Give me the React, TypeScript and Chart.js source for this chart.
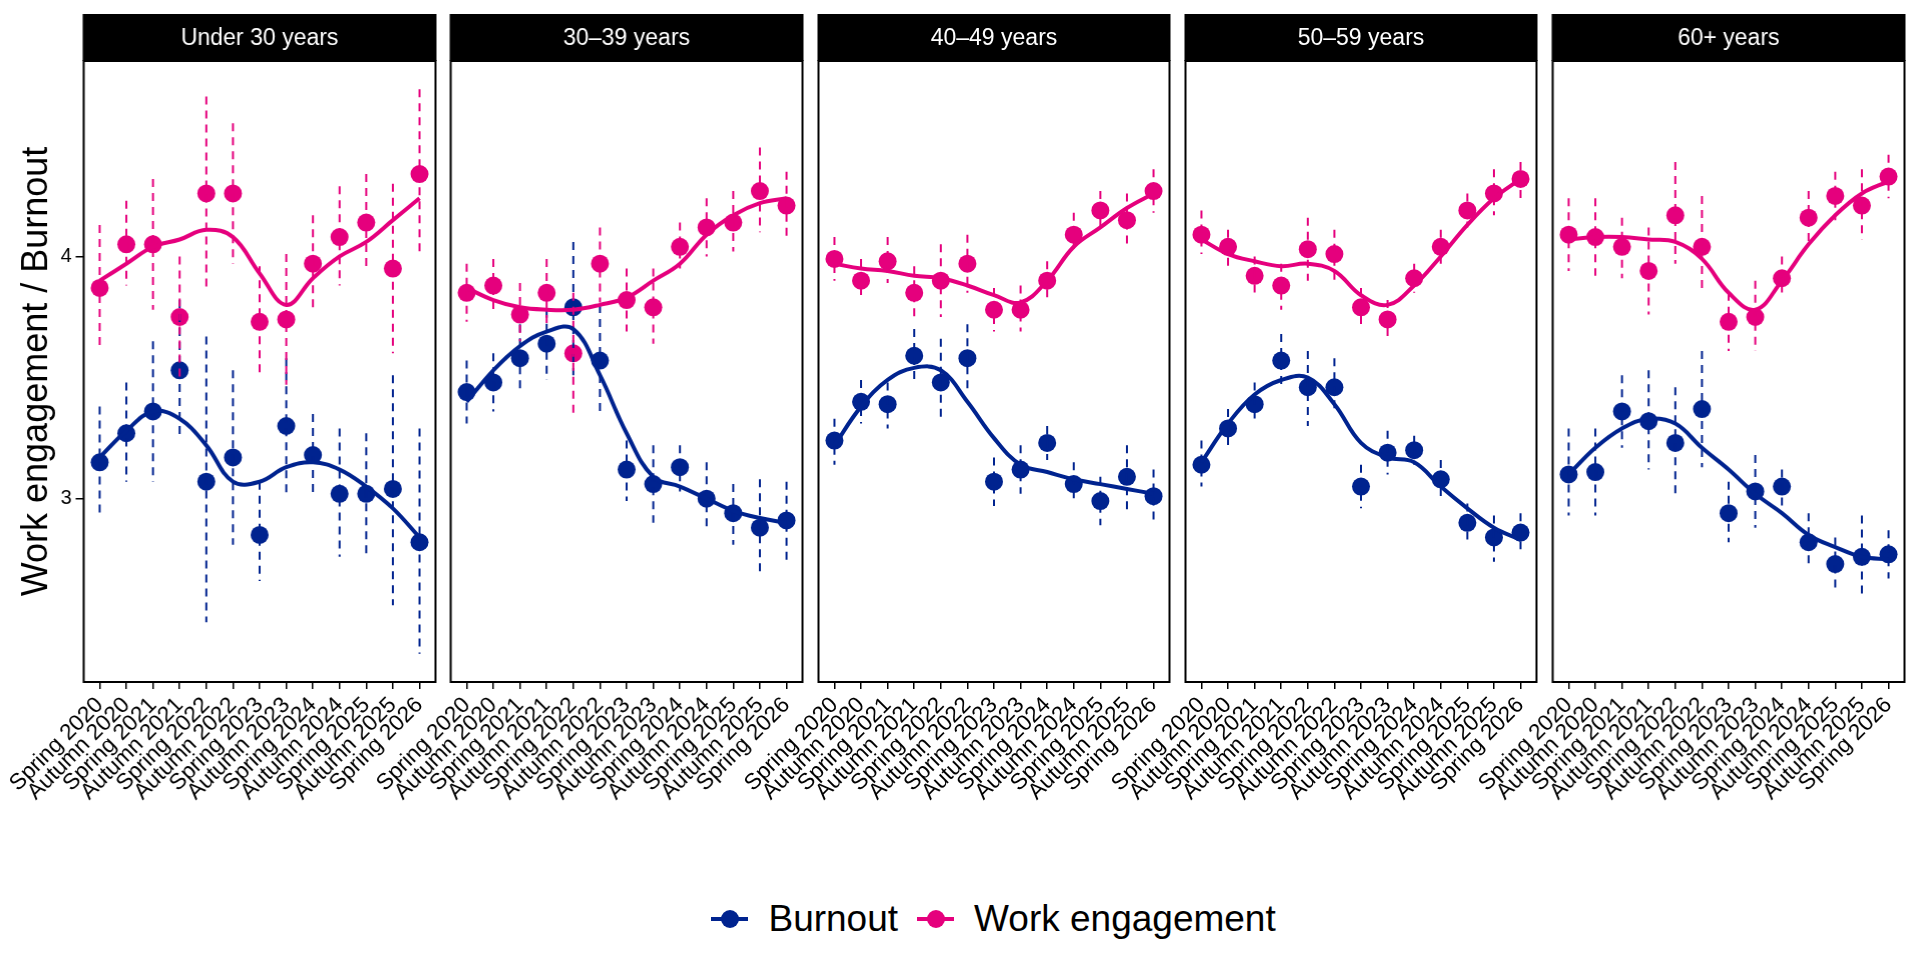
import React, { useEffect, useRef } from 'react';
import { Chart, registerables } from 'chart.js';

Chart.register(...registerables);

const waves = [
  'Spring 2020', 'Autumn 2020', 'Spring 2021', 'Autumn 2021', 'Spring 2022', 'Autumn 2022',
  'Spring 2023', 'Autumn 2023', 'Spring 2024', 'Autumn 2024', 'Spring 2025', 'Autumn 2025', 'Spring 2026',
];

const ageGroups = ['Under 30 years', '30–39 years', '40–49 years', '50–59 years', '60+ years'];

const yTicks = [3, 4];
const yMin = 2.243;
const yMax = 4.807;

// one row per age group
const burnoutMean = [
  [3.15, 3.27, 3.36, 3.53, 3.07, 3.17, 2.85, 3.30, 3.18, 3.02, 3.02, 3.04, 2.82],
  [3.44, 3.48, 3.58, 3.64, 3.79, 3.57, 3.12, 3.06, 3.13, 3.00, 2.94, 2.88, 2.91],
  [3.24, 3.40, 3.39, 3.59, 3.48, 3.58, 3.07, 3.12, 3.23, 3.06, 2.99, 3.09, 3.01],
  [3.14, 3.29, 3.39, 3.57, 3.46, 3.46, 3.05, 3.19, 3.20, 3.08, 2.90, 2.84, 2.86],
  [3.10, 3.11, 3.36, 3.32, 3.23, 3.37, 2.94, 3.03, 3.05, 2.82, 2.73, 2.76, 2.77],
];
const burnoutLow = [
  [2.93, 3.07, 3.07, 3.25, 2.49, 2.81, 2.66, 3.02, 3.01, 2.76, 2.76, 2.56, 2.36],
  [3.31, 3.36, 3.45, 3.49, 3.51, 3.36, 2.99, 2.90, 3.03, 2.87, 2.81, 2.68, 2.74],
  [3.14, 3.31, 3.29, 3.48, 3.32, 3.45, 2.97, 3.02, 3.16, 2.98, 2.89, 2.95, 2.91],
  [3.05, 3.20, 3.31, 3.47, 3.30, 3.35, 2.96, 3.10, 3.14, 3.00, 2.83, 2.74, 2.78],
  [2.93, 2.93, 3.21, 3.12, 3.00, 3.13, 2.82, 2.88, 2.97, 2.71, 2.63, 2.60, 2.67],
];
const burnoutHigh = [
  [3.38, 3.48, 3.65, 3.82, 3.67, 3.53, 3.07, 3.58, 3.35, 3.29, 3.27, 3.51, 3.29],
  [3.57, 3.60, 3.72, 3.78, 4.06, 3.80, 3.24, 3.22, 3.22, 3.15, 3.06, 3.08, 3.07],
  [3.33, 3.49, 3.48, 3.70, 3.66, 3.72, 3.17, 3.22, 3.30, 3.15, 3.09, 3.22, 3.12],
  [3.24, 3.37, 3.48, 3.68, 3.61, 3.58, 3.14, 3.28, 3.26, 3.16, 2.98, 2.93, 2.94],
  [3.29, 3.29, 3.51, 3.53, 3.46, 3.61, 3.07, 3.18, 3.12, 2.94, 2.84, 2.93, 2.87],
];
const burnoutSmooth = [
  [3.17, 3.28, 3.36, 3.33, 3.22, 3.07, 3.07, 3.13, 3.15, 3.12, 3.05, 2.96, 2.84],
  [3.40, 3.53, 3.63, 3.69, 3.70, 3.51, 3.27, 3.09, 3.05, 3.00, 2.95, 2.92, 2.90],
  [3.22, 3.38, 3.49, 3.54, 3.53, 3.40, 3.25, 3.14, 3.11, 3.08, 3.06, 3.04, 3.02],
  [3.15, 3.31, 3.43, 3.49, 3.50, 3.39, 3.23, 3.17, 3.15, 3.05, 2.96, 2.88, 2.83],
  [3.10, 3.21, 3.29, 3.33, 3.31, 3.21, 3.12, 3.02, 2.94, 2.85, 2.80, 2.76, 2.75],
];

const engagementMean = [
  [3.87, 4.05, 4.05, 3.75, 4.26, 4.26, 3.73, 3.74, 3.97, 4.08, 4.14, 3.95, 4.34],
  [3.85, 3.88, 3.76, 3.85, 3.60, 3.97, 3.82, 3.79, 4.04, 4.12, 4.14, 4.27, 4.21],
  [3.99, 3.90, 3.98, 3.85, 3.90, 3.97, 3.78, 3.78, 3.90, 4.09, 4.19, 4.15, 4.27],
  [4.09, 4.04, 3.92, 3.88, 4.03, 4.01, 3.79, 3.74, 3.91, 4.04, 4.19, 4.26, 4.32],
  [4.09, 4.08, 4.04, 3.94, 4.17, 4.04, 3.73, 3.75, 3.91, 4.16, 4.25, 4.21, 4.33],
];
const engagementLow = [
  [3.61, 3.88, 3.78, 3.50, 3.87, 3.97, 3.50, 3.47, 3.79, 3.88, 3.95, 3.60, 4.00],
  [3.73, 3.78, 3.65, 3.71, 3.34, 3.81, 3.69, 3.64, 3.95, 4.00, 4.02, 4.10, 4.08],
  [3.90, 3.82, 3.89, 3.75, 3.75, 3.85, 3.69, 3.69, 3.83, 4.01, 4.10, 4.04, 4.18],
  [4.01, 3.96, 3.84, 3.78, 3.90, 3.90, 3.70, 3.65, 3.85, 3.97, 4.12, 4.17, 4.24],
  [3.94, 3.92, 3.91, 3.76, 3.97, 3.85, 3.61, 3.61, 3.83, 4.05, 4.15, 4.07, 4.24],
];
const engagementHigh = [
  [4.13, 4.23, 4.32, 4.00, 4.66, 4.55, 3.96, 4.01, 4.17, 4.29, 4.34, 4.30, 4.69],
  [3.97, 3.99, 3.89, 3.99, 3.85, 4.12, 3.95, 3.95, 4.14, 4.24, 4.27, 4.45, 4.35],
  [4.08, 3.99, 4.08, 3.96, 4.05, 4.09, 3.87, 3.88, 3.98, 4.18, 4.27, 4.26, 4.36],
  [4.19, 4.11, 4.00, 3.97, 4.16, 4.11, 3.87, 3.82, 3.97, 4.11, 4.26, 4.36, 4.39],
  [4.24, 4.24, 4.16, 4.12, 4.39, 4.25, 3.85, 3.90, 4.00, 4.27, 4.35, 4.36, 4.42],
];
const engagementSmooth = [
  [3.90, 3.97, 4.04, 4.07, 4.11, 4.08, 3.93, 3.80, 3.91, 4.00, 4.06, 4.15, 4.24],
  [3.87, 3.82, 3.79, 3.78, 3.78, 3.80, 3.83, 3.90, 3.97, 4.09, 4.17, 4.22, 4.24],
  [3.97, 3.95, 3.94, 3.92, 3.91, 3.88, 3.84, 3.81, 3.90, 4.04, 4.12, 4.20, 4.26],
  [4.07, 4.01, 3.98, 3.96, 3.97, 3.94, 3.84, 3.80, 3.88, 4.00, 4.13, 4.24, 4.32],
  [4.07, 4.08, 4.08, 4.07, 4.06, 3.99, 3.85, 3.78, 3.90, 4.05, 4.17, 4.26, 4.31],
];

const BLUE = '#00238F';
const PINK = '#E5007D';
const FONT = "'Liberation Sans', Arial, Helvetica, sans-serif";

const PANEL_STEP = 367.3;
const AXIS_W = 83.5;
const PANEL_W = 351;
const RIGHT_PAD = 10;
const CANVAS_W = AXIS_W + PANEL_W + RIGHT_PAD;
const CANVAS_H = 870;
const PLOT_TOP = 61;
const PLOT_BOTTOM = 682;
const STRIP_TOP = 14;

const Panel: React.FC<{ index: number }> = ({ index }) => {
  const canvasRef = useRef<HTMLCanvasElement | null>(null);

  useEffect(() => {
    if (!canvasRef.current) return;
    const first = index === 0;
    const pts = (vals: number[]) => vals.map((v, i) => ({ x: i, y: v }));

    const panelDecor = {
      id: 'panelDecor',
      // dashed intervals go on top of the points but under the smooth lines
      afterDatasetDraw(chart: any, args: any) {
        if (args.index !== 2) return;
        const { ctx } = chart;
        const x = chart.scales.x;
        const y = chart.scales.y;
        const bars: [number[], number[], string][] = [
          [burnoutLow[index], burnoutHigh[index], BLUE],
          [engagementLow[index], engagementHigh[index], PINK],
        ];
        ctx.save();
        ctx.lineWidth = 2;
        ctx.setLineDash([8, 6]);
        bars.forEach(([lo, hi, color]) => {
          ctx.strokeStyle = color;
          lo.forEach((l, i) => {
            const px = x.getPixelForValue(i);
            ctx.beginPath();
            ctx.moveTo(px, y.getPixelForValue(hi[i]));
            ctx.lineTo(px, y.getPixelForValue(l));
            ctx.stroke();
          });
        });
        ctx.restore();
      },
      afterDraw(chart: any) {
        const { ctx, chartArea: a } = chart;
        ctx.save();
        ctx.fillStyle = '#000';
        ctx.fillRect(a.left - 1, STRIP_TOP, a.right - a.left + 2, a.top - STRIP_TOP);
        ctx.fillStyle = '#fff';
        ctx.font = `23px ${FONT}`;
        ctx.textAlign = 'center';
        ctx.textBaseline = 'middle';
        ctx.fillText(ageGroups[index], (a.left + a.right) / 2, (STRIP_TOP + a.top) / 2 + 1);
        ctx.strokeStyle = '#000';
        ctx.lineWidth = 2;
        ctx.strokeRect(a.left, a.top, a.right - a.left, a.bottom - a.top);
        ctx.restore();
      },
    };

    const chart = new Chart(canvasRef.current, {
      type: 'line',
      data: {
        datasets: [
          {
            label: 'Burnout',
            data: pts(burnoutSmooth[index]),
            borderColor: BLUE,
            borderWidth: 4,
            pointRadius: 0,
            tension: 0.4,
            order: 0,
          },
          {
            label: 'Work engagement',
            data: pts(engagementSmooth[index]),
            borderColor: PINK,
            borderWidth: 4,
            pointRadius: 0,
            tension: 0.4,
            order: 0,
          },
          {
            label: 'Burnout',
            data: pts(burnoutMean[index]),
            showLine: false,
            pointRadius: 9,
            pointBorderWidth: 0,
            pointBackgroundColor: BLUE,
            order: 1,
          },
          {
            label: 'Work engagement',
            data: pts(engagementMean[index]),
            showLine: false,
            pointRadius: 9,
            pointBorderWidth: 0,
            pointBackgroundColor: PINK,
            order: 1,
          },
        ],
      },
      options: {
        animation: false,
        responsive: true,
        maintainAspectRatio: false,
        events: [],
        layout: { padding: { top: PLOT_TOP, right: RIGHT_PAD, left: 0, bottom: 0 } },
        plugins: { legend: { display: false }, tooltip: { enabled: false } },
        scales: {
          x: {
            type: 'linear',
            min: -0.6,
            max: waves.length - 1 + 0.6,
            afterBuildTicks: (s: any) => {
              s.ticks = waves.map((_, i) => ({ value: i }));
            },
            afterFit: (s: any) => {
              s.height = CANVAS_H - PLOT_BOTTOM;
            },
            grid: {
              display: true,
              drawOnChartArea: false,
              drawTicks: true,
              tickLength: 7,
              color: '#000',
              lineWidth: 1.5,
            },
            border: { display: false },
            ticks: {
              autoSkip: false,
              minRotation: 45,
              maxRotation: 45,
              padding: 3,
              color: '#000',
              font: { family: FONT, size: 22.5 },
              callback: (v: any) => waves[v],
            },
          },
          y: {
            min: yMin,
            max: yMax,
            afterBuildTicks: (s: any) => {
              s.ticks = yTicks.map((v) => ({ value: v }));
            },
            afterFit: (s: any) => {
              s.width = AXIS_W;
            },
            grid: {
              display: first,
              drawOnChartArea: false,
              drawTicks: true,
              tickLength: 8,
              color: '#000',
              lineWidth: 1.5,
            },
            border: { display: false },
            ticks: {
              display: first,
              padding: 4,
              color: '#000',
              font: { family: FONT, size: 20 },
            },
            title: {
              display: first,
              text: 'Work engagement / Burnout',
              color: '#000',
              font: { family: FONT, size: 36 },
              padding: { top: 15, bottom: 0 },
            },
          },
        },
      },
      plugins: [panelDecor],
    });

    return () => {
      chart.destroy();
    };
  }, [index]);

  return <canvas ref={canvasRef} style={{ display: 'block' }} />;
};

const LegendKey: React.FC<{ color: string }> = ({ color }) => (
  <div style={{ position: 'relative', width: 37, height: 22 }}>
    <div style={{ position: 'absolute', left: 0, top: 9, width: 37, height: 4, background: color }} />
    <div
      style={{
        position: 'absolute',
        left: 9.5,
        top: 2,
        width: 18,
        height: 18,
        borderRadius: '50%',
        background: color,
      }}
    />
  </div>
);

const App: React.FC = () => {
  const legendItems: [string, string][] = [
    ['Burnout', BLUE],
    ['Work engagement', PINK],
  ];
  return (
    <div
      style={{
        position: 'absolute',
        left: 0,
        top: 0,
        width: 1920,
        height: 960,
        background: '#fff',
        fontFamily: FONT,
      }}
    >
      {ageGroups.map((g, i) => (
        <div
          key={g}
          style={{ position: 'absolute', left: i * PANEL_STEP, top: 0, width: CANVAS_W, height: CANVAS_H }}
        >
          <Panel index={i} />
        </div>
      ))}
      <div
        style={{
          position: 'absolute',
          left: AXIS_W,
          width: 4 * PANEL_STEP + PANEL_W,
          top: 895,
          height: 48,
          display: 'flex',
          justifyContent: 'center',
          alignItems: 'center',
        }}
      >
        {legendItems.map(([name, color], i) => (
          <div key={name} style={{ display: 'flex', alignItems: 'center', marginLeft: i ? 19 : 0 }}>
            <LegendKey color={color} />
            <span style={{ marginLeft: 20, fontSize: 37, color: '#000', lineHeight: '48px' }}>{name}</span>
          </div>
        ))}
      </div>
    </div>
  );
};

export default App;
